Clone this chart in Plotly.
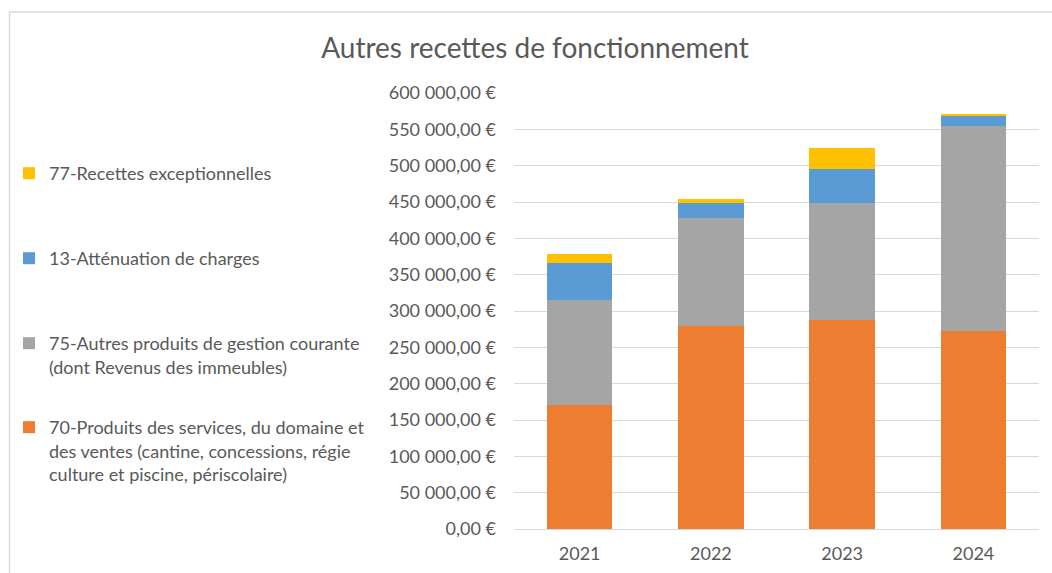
import plotly.graph_objects as go

years = ["2021", "2022", "2023", "2024"]
s70 = [170000, 279000, 288000, 273000]
s75 = [145000, 148500, 161000, 282000]
s13 = [51000, 21500, 47000, 14000]
s77 = [12500, 5500, 29000, 2000]

names = [
    "70-Produits des services, du domaine et<br>des ventes (cantine, concessions, régie<br>culture et piscine, périscolaire)",
    "75-Autres produits de gestion courante<br>(dont Revenus des immeubles)",
    "13-Atténuation de charges",
    "77-Recettes exceptionnelles",
]
colors = ["#ED7D31", "#A5A5A5", "#5B9BD5", "#FFC000"]
series = [s70, s75, s13, s77]

tick_vals = [0, 50000, 100000, 150000, 200000, 250000, 300000, 350000, 400000, 450000, 500000, 550000, 600000]
tick_text = ["0,00 €", "50 000,00 €", "100 000,00 €", "150 000,00 €", "200 000,00 €", "250 000,00 €",
             "300 000,00 €", "350 000,00 €", "400 000,00 €", "450 000,00 €", "500 000,00 €",
             "550 000,00 €", "600 000,00 €"]

W, H = 1052, 573
FONT = "Lato"
GREY = "#595959"

fig = go.Figure()
legend_ids = ["legend4", "legend3", "legend2", "legend"]
for name, col, vals, lg in zip(names, colors, series, legend_ids):
    fig.add_trace(go.Bar(x=years, y=vals, name=name, marker=dict(color=col, line=dict(width=0)),
                         legend=lg))

# legend first-line centers (px) in reference
legend_top_px = {"legend": 173, "legend2": 258, "legend3": 343, "legend4": 427}
leg_common = dict(xref="container", yref="container", xanchor="left", yanchor="top",
                  font=dict(family=FONT, size=18, color=GREY), bgcolor="rgba(0,0,0,0)",
                  valign="top", itemwidth=30, borderwidth=0)
legends = {}
for k, py in legend_top_px.items():
    legends[k] = dict(x=9 / W, y=1 - (py - 18) / H, **leg_common)

ml, mr, mt, mb = 514, W - 1039, 93, H - 529

fig.update_layout(
    width=W, height=H,
    margin=dict(l=ml, r=mr, t=mt, b=mb, autoexpand=False),
    barmode="stack", bargap=0.5,
    paper_bgcolor="white", plot_bgcolor="white",
    title=dict(text="Autres recettes de fonctionnement", x=535 / W, xanchor="center",
               y=1 - 48 / H, yanchor="middle", xref="container", yref="container",
               font=dict(family=FONT, size=28, color=GREY)),
    font=dict(family=FONT, color=GREY),
    showlegend=True,
    **legends,
)
fig.update_yaxes(range=[0, 600000], tickvals=tick_vals, ticktext=tick_text,
                 showgrid=True, gridcolor="#D9D9D9", gridwidth=1,
                 zeroline=False, showline=False, ticks="",
                 ticklabelstandoff=17,
                 tickfont=dict(family=FONT, size=18, color=GREY))
fig.update_xaxes(showline=True, linecolor="#D9D9D9", linewidth=1, ticks="",
                 tickfont=dict(family=FONT, size=18, color=GREY), ticklabelstandoff=8)

# chart-area frame (top & left border visible in reference)
x_left = (9.5 - ml) / (W - ml - mr)
y_top = (H - mb - 12) / (H - mt - mb)
y_bot = -(mb + 2) / (H - mt - mb)
x_right = (W + 2 - ml) / (W - ml - mr)
fig.add_shape(type="path", xref="paper", yref="paper",
              path=f"M {x_left},{y_bot} L {x_left},{y_top} L {x_right},{y_top}",
              line=dict(color="#D9D9D9", width=1.5), layer="below")

fig.write_html("out.html", config={"displayModeBar": False},
               post_script="document.body.style.margin='0';")
